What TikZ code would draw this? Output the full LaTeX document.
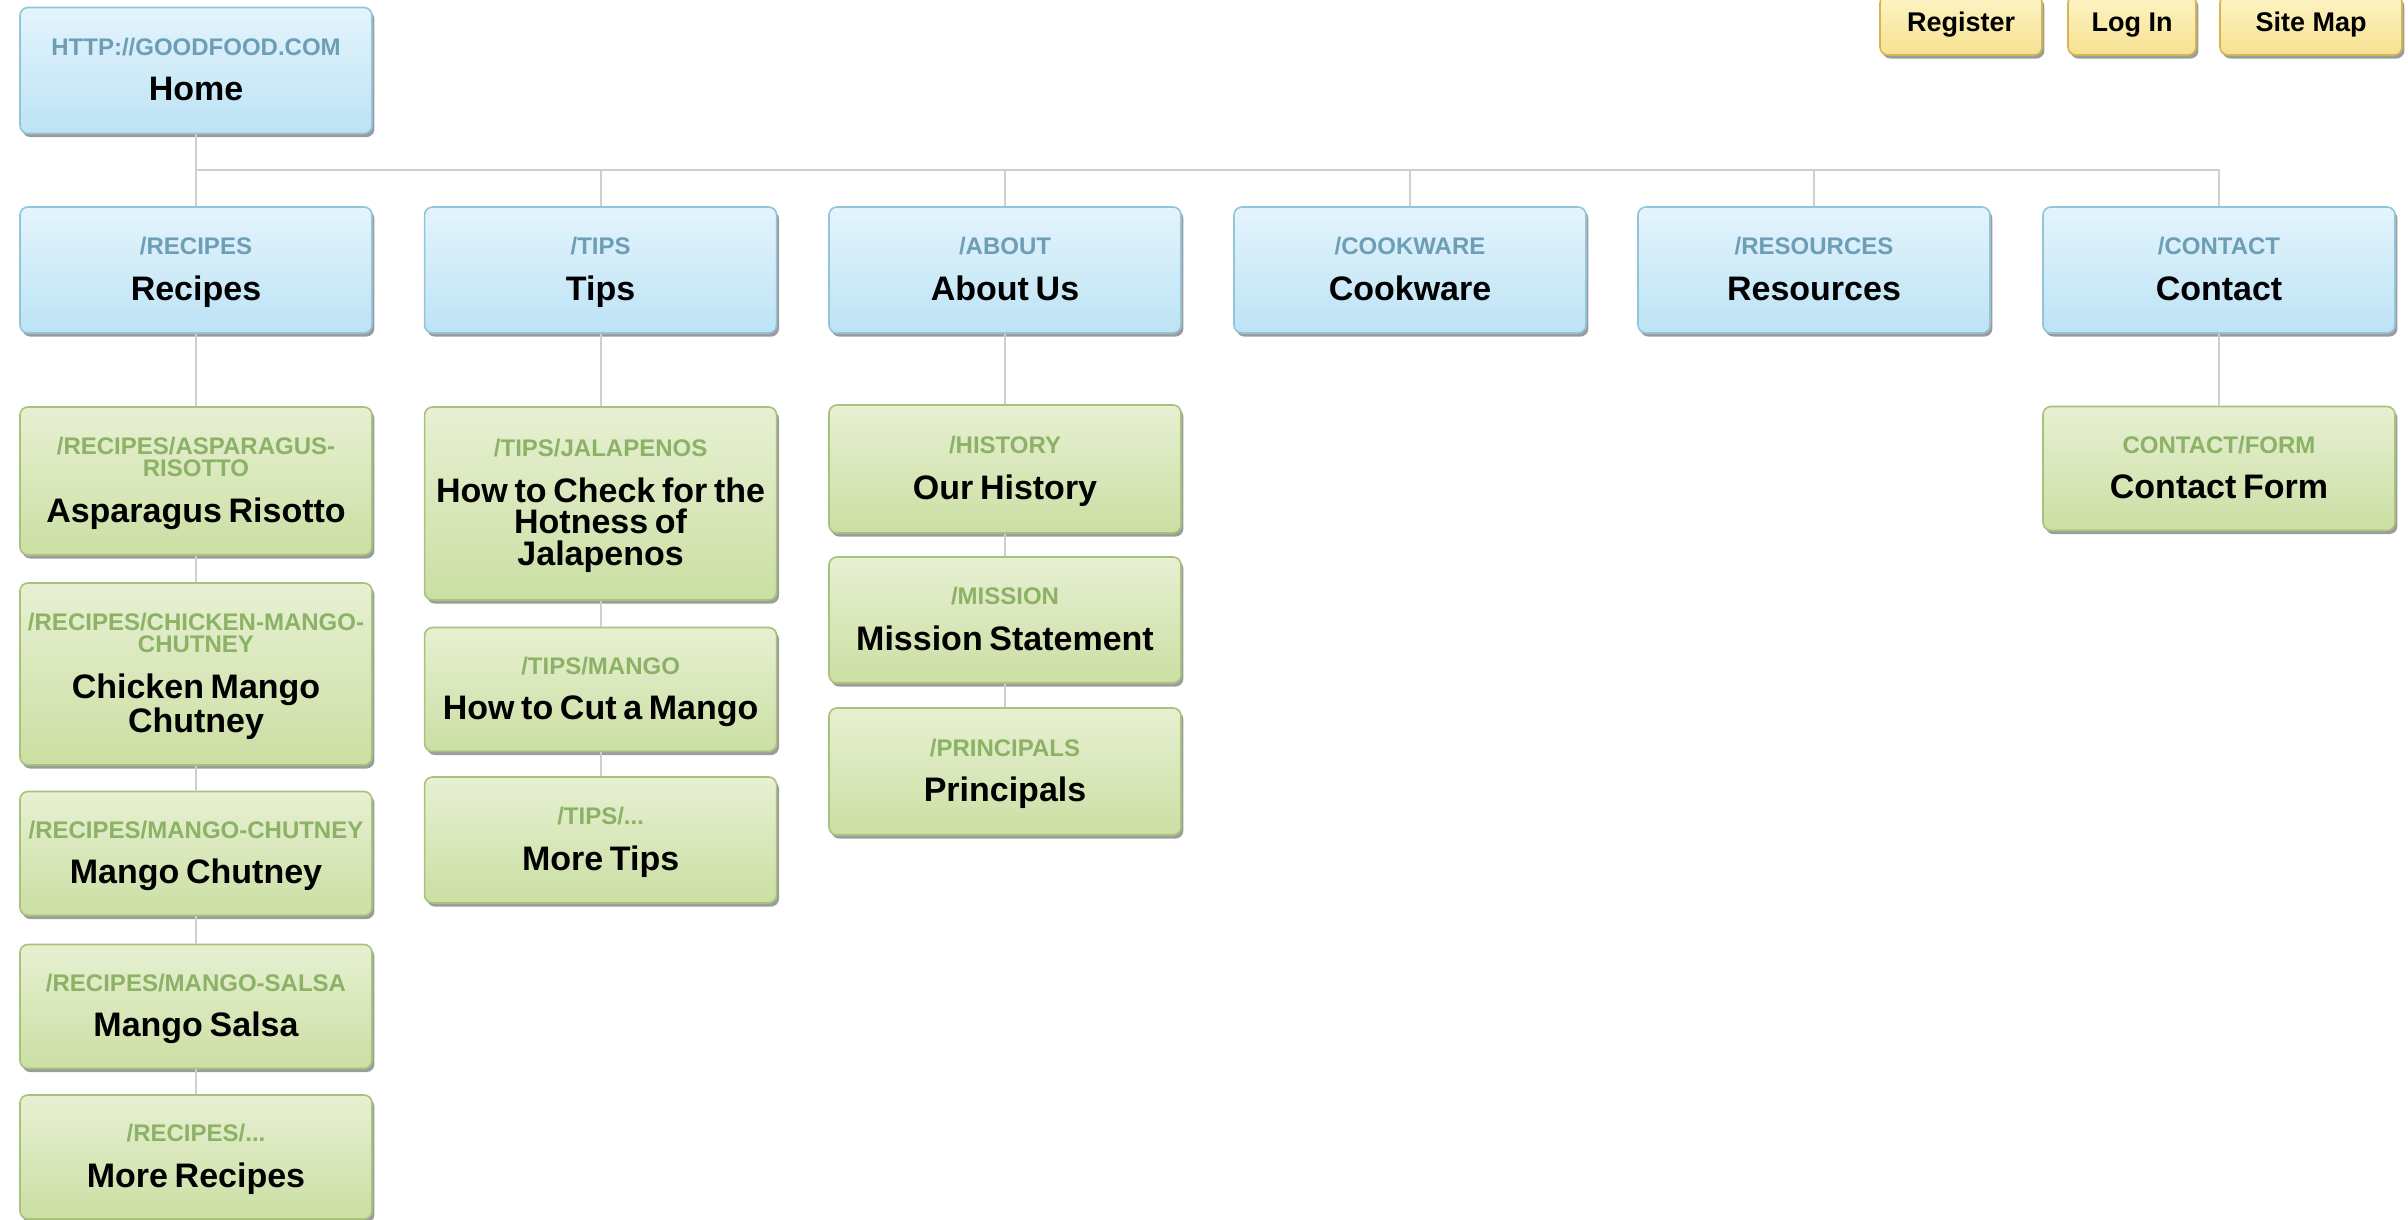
\documentclass[tikz,border=0pt]{standalone}
\usepackage{fontspec}
\setmainfont{Liberation Sans}
\usetikzlibrary{shadows}

\definecolor{bluetop}{HTML}{E4F4FC}
\definecolor{bluebot}{HTML}{BCE3F5}
\definecolor{blueline}{HTML}{93C4DA}
\definecolor{bluetag}{HTML}{6C9FB6}
\definecolor{greentop}{HTML}{E7F0D2}
\definecolor{greenbot}{HTML}{CBDFA3}
\definecolor{greenline}{HTML}{A8C27C}
\definecolor{greentag}{HTML}{8CB266}
\definecolor{yellowtop}{HTML}{FDF3C4}
\definecolor{yellowbot}{HTML}{F7E291}
\definecolor{yellowline}{HTML}{D3B653}
\definecolor{linkgray}{HTML}{CFCFCF}

% tag line on top, page name below
\newcommand{\pg}[2]{{\fontsize{12}{11}\selectfont\color{tagcol}\rule{0pt}{12.3pt}#1\par}\vspace{7pt}{\fontsize{17}{15.8}\selectfont #2\strut\par}}

\begin{document}
\begin{tikzpicture}
      [x=0.5pt,y=-0.5pt,%%%%%%%%%%%%%%%%%%%%%%%%%%%%%%
      page/.style={rectangle,rounded corners=4pt,line width=0.8pt,
        text width=172pt,inner xsep=2pt,inner ysep=2pt,align=center,
        font=\bfseries,minimum height=#1,
        drop shadow={shadow xshift=1.2pt,shadow yshift=-1.8pt,opacity=.55,fill=black!70}},
      page/.default=63pt,
      bluebox/.style={page=#1,draw=blueline,top color=bluetop,bottom color=bluebot,
        execute at begin node=\colorlet{tagcol}{bluetag}},
      bluebox/.default=63pt,
      greenbox/.style={page=#1,draw=greenline,top color=greentop,bottom color=greenbot,
        execute at begin node=\colorlet{tagcol}{greentag}},
      greenbox/.default=62pt,
      button/.style={rectangle,rounded corners=4pt,line width=0.8pt,draw=yellowline,
        top color=yellowtop,bottom color=yellowbot,minimum height=30pt,
        font=\bfseries\fontsize{13.5}{14}\selectfont,
        drop shadow={shadow xshift=1.2pt,shadow yshift=-1.8pt,opacity=.55,fill=black!70}},
      link/.style={draw=linkgray,line width=1.1pt},
      ]%%%%%%%%%%%%%%%%%%%%%%%%%%%%%%
      \useasboundingbox[fill=white] (0,0) rectangle (2408,1220);

      % home and top level
      \node[bluebox] (home) at (196,70.5) {\pg{HTTP://GOODFOOD.COM}{Home}};
      \node[bluebox] (recipes) at (196,270) {\pg{/RECIPES}{Recipes}};
      \node[bluebox] (tips) at (600.6,270) {\pg{/TIPS}{Tips}};
      \node[bluebox] (about) at (1005,270) {\pg{/ABOUT}{About Us}};
      \node[bluebox] (cookware) at (1410,270) {\pg{/COOKWARE}{Cookware}};
      \node[bluebox] (resources) at (1814,270) {\pg{/RESOURCES}{Resources}};
      \node[bluebox] (contact) at (2219,270) {\pg{/CONTACT}{Contact}};

      % buttons
      \node[button,minimum width=81pt] (register) at (1961,25) {Register};
      \node[button,minimum width=64pt] (login) at (2132,25) {Log In};
      \node[button,minimum width=91pt] (sitemap) at (2311,25) {Site Map};

      % recipes
      \node[greenbox=74pt] (asparagus) at (196,481) {\pg{/RECIPES/ASPARAGUS-\\RISOTTO}{Asparagus Risotto}};
      \node[greenbox=91pt] (chicken) at (196,674) {\pg{/RECIPES/CHICKEN-MANGO-\\CHUTNEY}{Chicken Mango\\Chutney}};
      \node[greenbox] (mchutney) at (196,853.5) {\pg{/RECIPES/MANGO-CHUTNEY}{Mango Chutney}};
      \node[greenbox] (msalsa) at (196,1006.5) {\pg{/RECIPES/MANGO-SALSA}{Mango Salsa}};
      \node[greenbox] (morerecipes) at (196,1157) {\pg{/RECIPES/...}{More Recipes}};

      % tips
      \node[greenbox=96.5pt] (jalapenos) at (600.6,503.5) {\pg{/TIPS/JALAPENOS}{How to Check for the\\Hotness of\\Jalapenos}};
      \node[greenbox] (cutmango) at (600.6,689.5) {\pg{/TIPS/MANGO}{How to Cut a Mango}};
      \node[greenbox=63pt] (moretips) at (600.6,840) {\pg{/TIPS/...}{More Tips}};

      % about
      \node[greenbox=64pt] (history) at (1005,469) {\pg{/HISTORY}{Our History}};
      \node[greenbox=63pt] (mission) at (1005,620) {\pg{/MISSION}{Mission Statement}};
      \node[greenbox=63.5pt] (principals) at (1005,771.5) {\pg{/PRINCIPALS}{Principals}};

      % contact
      \node[greenbox] (contactform) at (2219,468.5) {\pg{CONTACT/FORM}{Contact Form}};

      % links
      \coordinate (bar) at (196,170);
      \draw[link] (home.south) -- (recipes.north);
      \draw[link] (bar) -| (contact.north);
      \foreach \n in {tips,about,cookware,resources}
        \draw[link] (bar -| \n.north) -- (\n.north);
      \draw[link] (recipes.south) -- (asparagus.north);
      \draw[link] (asparagus.south) -- (chicken.north);
      \draw[link] (chicken.south) -- (mchutney.north);
      \draw[link] (mchutney.south) -- (msalsa.north);
      \draw[link] (msalsa.south) -- (morerecipes.north);
      \draw[link] (tips.south) -- (jalapenos.north);
      \draw[link] (jalapenos.south) -- (cutmango.north);
      \draw[link] (cutmango.south) -- (moretips.north);
      \draw[link] (about.south) -- (history.north);
      \draw[link] (history.south) -- (mission.north);
      \draw[link] (mission.south) -- (principals.north);
      \draw[link] (contact.south) -- (contactform.north);
    \end{tikzpicture}
\end{document}
